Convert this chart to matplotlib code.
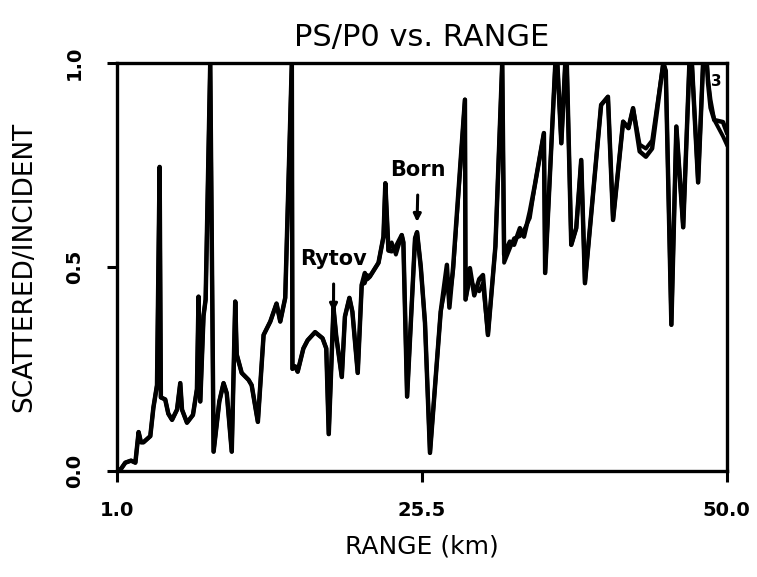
import numpy as np
import matplotlib
matplotlib.use("Agg")
import matplotlib.pyplot as plt

# range in km and PS/P0 (Born and Rytov curves)
range_km = [1.0, 1.3, 1.64, 2.1, 2.45, 2.71, 2.9, 3.1, 3.65, 3.9,
            4.19, 4.4, 4.5, 4.85, 5.1, 5.4, 5.8, 6.06, 6.2, 6.6,
            7.08, 7.4, 7.53, 7.67, 7.93, 8.1, 8.47, 8.74, 9.2, 9.54,
            9.8, 10.2, 10.48, 10.6, 11.0, 11.55, 11.8, 12.3, 12.76, 13.3,
            13.8, 14.1, 14.5, 15.03, 15.08, 15.3, 15.5, 15.96, 16.3, 16.9,
            17.5, 17.8, 18.0, 18.38, 18.6, 19.05, 19.3, 19.66, 19.9, 20.33,
            20.65, 20.9, 21.1, 21.3, 22.0, 22.4, 22.55, 22.8, 23.06, 23.4,
            23.87, 24.0, 24.3, 24.94, 25.1, 25.4, 25.74, 26.14, 27.0, 27.5,
            27.7, 28.0, 28.95, 29.0, 29.35, 29.7, 30.1, 30.4, 30.8, 31.4,
            31.95, 32.1, 32.56, 32.9, 33.37, 33.7, 34.17, 34.57, 35.3, 35.4,
            36.3, 36.7, 37.1, 37.5, 37.9, 38.3, 38.6, 39.9, 40.45, 40.86,
            41.67, 42.1, 42.47, 43.0, 43.5, 44.0, 44.9, 45.1, 45.55, 45.95,
            46.5, 47.0, 47.2, 47.7, 48.1, 48.4, 48.5, 48.7, 49.0, 49.7, 50.0]

born = [0.0, 0.005, 0.02, 0.025, 0.02, 0.095, 0.07, 0.07, 0.085, 0.155,
        0.21, 0.745, 0.18, 0.175, 0.14, 0.125, 0.15, 0.215, 0.15, 0.118,
        0.137, 0.2, 0.427, 0.17, 0.38, 0.42, 1.0, 0.047, 0.17, 0.215,
        0.19, 0.047, 0.415, 0.285, 0.24, 0.223, 0.21, 0.12, 0.333, 0.366,
        0.41, 0.366, 0.424, 1.0, 0.25, 0.256, 0.243, 0.3, 0.32, 0.34,
        0.325, 0.30, 0.09, 0.40, 0.33, 0.23, 0.378, 0.424, 0.39, 0.24,
        0.456, 0.485, 0.47, 0.476, 0.51, 0.574, 0.705, 0.54, 0.538, 0.55,
        0.578, 0.56, 0.182, 0.57, 0.585, 0.5, 0.362, 0.044, 0.39, 0.505,
        0.40, 0.5, 0.91, 0.42, 0.497, 0.43, 0.47, 0.48, 0.333, 0.55,
        1.0, 0.53, 0.562, 0.554, 0.595, 0.574, 0.636, 0.70, 0.828, 0.485,
        1.05, 0.803, 1.05, 0.554, 0.595, 0.762, 0.46, 0.897, 0.917, 0.615,
        0.856, 0.84, 0.889, 0.783, 0.77, 0.79, 1.0, 0.98, 0.358, 0.844,
        0.597, 1.0, 1.0, 0.707, 1.0, 1.0, 0.95, 0.89, 0.86, 0.855, 0.83]

rytov = [0.0, 0.005, 0.02, 0.025, 0.02, 0.095, 0.07, 0.07, 0.085, 0.155,
         0.21, 0.745, 0.18, 0.175, 0.14, 0.125, 0.15, 0.215, 0.15, 0.118,
         0.137, 0.2, 0.427, 0.17, 0.38, 0.42, 1.0, 0.047, 0.17, 0.215,
         0.19, 0.047, 0.415, 0.285, 0.24, 0.223, 0.21, 0.12, 0.333, 0.366,
         0.41, 0.366, 0.424, 1.0, 0.25, 0.256, 0.243, 0.3, 0.32, 0.34,
         0.325, 0.30, 0.09, 0.40, 0.33, 0.23, 0.378, 0.424, 0.39, 0.24,
         0.456, 0.46, 0.48, 0.476, 0.51, 0.574, 0.705, 0.54, 0.56, 0.53,
         0.578, 0.56, 0.182, 0.57, 0.585, 0.5, 0.362, 0.044, 0.39, 0.47,
         0.42, 0.49, 0.91, 0.42, 0.47, 0.45, 0.44, 0.46, 0.333, 0.55,
         1.0, 0.51, 0.545, 0.57, 0.575, 0.59, 0.62, 0.70, 0.828, 0.485,
         1.05, 0.803, 1.05, 0.554, 0.595, 0.762, 0.46, 0.897, 0.917, 0.615,
         0.856, 0.84, 0.889, 0.80, 0.79, 0.81, 1.0, 0.98, 0.358, 0.844,
         0.597, 1.0, 1.0, 0.707, 1.0, 1.0, 0.96, 0.91, 0.86, 0.82, 0.80]

x_ticks = [1.0, 25.5, 50.0]
y_ticks = [0.0, 0.5, 1.0]

fig = plt.figure(figsize=(7.57, 5.77), dpi=100)
ax = fig.add_axes([0.155, 0.184, 0.805, 0.707])

ax.plot(range_km, born, color="black", lw=3.2)
ax.plot(range_km, rytov, color="black", lw=2.8)

ax.set_xlim(1.0, 50.0)
ax.set_ylim(0.0, 1.0)

for s in ax.spines.values():
    s.set_linewidth(2.4)

ax.set_xticks(x_ticks)
ax.set_xticklabels(["1.0", "25.5", "50.0"], fontsize=14, fontweight="bold")
ax.set_yticks(y_ticks)
ax.set_yticklabels(["0.0", "0.5", "1.0"], fontsize=14, fontweight="bold",
                   rotation=90, va="center")
ax.tick_params(axis="x", direction="out", length=8, width=2.2, pad=14)
ax.tick_params(axis="y", direction="out", length=7, width=2.2, pad=17)

ax.set_title("PS/P0 vs. RANGE", fontsize=22, pad=12)
ax.set_xlabel("RANGE (km)", fontsize=18, labelpad=10)
ax.set_ylabel("SCATTERED/INCIDENT", fontsize=19, labelpad=20)

ax.annotate("Rytov", xy=(18.38, 0.39), xytext=(18.4, 0.52),
            ha="center", va="center", fontsize=15, fontweight="bold",
            arrowprops=dict(arrowstyle="-|>", color="black", lw=2.2,
                            mutation_scale=11, shrinkA=9, shrinkB=0))
ax.annotate("Born", xy=(25.1, 0.61), xytext=(25.2, 0.738),
            ha="center", va="center", fontsize=15, fontweight="bold",
            arrowprops=dict(arrowstyle="-|>", color="black", lw=2.2,
                            mutation_scale=11, shrinkA=9, shrinkB=0))

ax.text(49.2, 0.955, "3", fontsize=11, fontweight="bold", ha="center", va="center")

fig.savefig("out.png", dpi=100)
